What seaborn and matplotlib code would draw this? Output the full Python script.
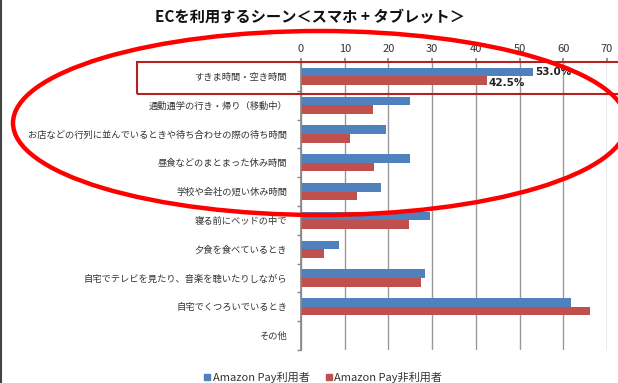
import matplotlib
matplotlib.use("Agg")
import matplotlib.pyplot as plt
import seaborn as sns
import pandas as pd
from matplotlib.patches import Ellipse, Rectangle
from matplotlib.lines import Line2D

categories = [
    "すきま時間・空き時間",
    "通勤通学の行き・帰り（移動中）",
    "お店などの行列に並んでいるときや待ち合わせの際の待ち時間",
    "昼食などのまとまった休み時間",
    "学校や会社の短い休み時間",
    "寝る前にベッドの中で",
    "夕食を食べているとき",
    "自宅でテレビを見たり、音楽を聴いたりしながら",
    "自宅でくつろいでいるとき",
    "その他",
]
users = [53.0, 25.0, 19.5, 25.0, 18.4, 29.4, 8.7, 28.4, 61.7, 0.0]
non_users = [42.5, 16.4, 11.2, 16.8, 12.7, 24.6, 5.3, 27.5, 66.1, 0.0]
series_names = ["Amazon Pay利用者", "Amazon Pay非利用者"]
x_ticks = [0, 10, 20, 30, 40, 50, 60, 70]
title = "ECを利用するシーン＜スマホ + タブレット＞"
value_labels = ["53.0%", "42.5%"]

df = pd.DataFrame({
    "scene": categories * 2,
    "value": users + non_users,
    "series": [series_names[0]] * len(categories) + [series_names[1]] * len(categories),
})

sns.set_theme(style="white")
plt.rcParams["font.family"] = ["Noto Sans CJK JP", "DejaVu Sans"]

W, H = 618, 383
fig = plt.figure(figsize=(W / 100, H / 100), dpi=100)
ax = fig.add_axes([301 / W, 1 - 350 / H, (607 - 301) / W, (350 - 62) / H])

colors = ["#4F81BD", "#C0504D"]
sns.barplot(data=df, y="scene", x="value", hue="series", order=categories,
            hue_order=series_names, palette=colors, width=0.6, gap=0, orient="h",
            ax=ax, legend=False, saturation=1, linewidth=0)

ax.set_xlim(0, 70)
ax.set_ylim(9.45, -0.48)
ax.set_xticks(x_ticks)
ax.xaxis.tick_top()
ax.tick_params(axis="x", top=True, length=3, color="#888888", labelsize=8,
               labelcolor="#333333", pad=3)
ax.tick_params(axis="y", left=False, labelsize=6.7, labelcolor="#333333", pad=4)
ax.set_yticks(range(len(categories)))
ax.set_yticks([i + 0.5 for i in range(-1, len(categories))], minor=True)
ax.tick_params(axis="y", which="minor", left=True, length=3, color="#888888")
ax.set_xlabel("")
ax.set_ylabel("")
ax.grid(axis="x", color="#999999", linewidth=1)
ax.set_axisbelow(True)
for s in ["right", "bottom"]:
    ax.spines[s].set_visible(False)
ax.spines["top"].set_color("#cccccc")
ax.spines["left"].set_color("#888888")

# value labels on first category
ax.text(users[0] + 0.5, 0 - 0.15, value_labels[0], fontsize=7.5, fontweight="bold",
        va="center", ha="left", color="#222222", family=["DejaVu Sans"])
ax.text(non_users[0] + 0.5, 0 + 0.22, value_labels[1], fontsize=7.5, fontweight="bold",
        va="center", ha="left", color="#222222", family=["DejaVu Sans"])

fig.text(310 / W, 1 - 17 / H, title, ha="center", va="center", fontsize=11,
         fontweight="bold", color="#111111")

handles = [Line2D([], [], marker="s", linestyle="", color=c, markersize=4) for c in colors]
fig.legend(handles, series_names, loc="center", bbox_to_anchor=(322 / W, 1 - 377 / H),
           ncol=2, frameon=False, fontsize=8, handletextpad=0.0, handlelength=1.0,
           columnspacing=1.2, labelcolor="#333333")

# highlight rectangle around first row
fig.patches.append(Rectangle((137 / W, 1 - 94 / H), (620 - 137) / W, 32 / H,
                             transform=fig.transFigure, fill=False,
                             edgecolor="#B22222", linewidth=1.5, zorder=10))
# red ellipse
fig.patches.append(Ellipse((320 / W, 1 - 123 / H), 614 / W, 184 / H,
                           transform=fig.transFigure, fill=False,
                           edgecolor="#FF0000", linewidth=3.2, zorder=11))
# left border line
fig.add_artist(Line2D([1 / W, 1 / W], [0, 1], transform=fig.transFigure,
                      color="#444444", linewidth=1.5))

fig.savefig("out.png", dpi=100)
